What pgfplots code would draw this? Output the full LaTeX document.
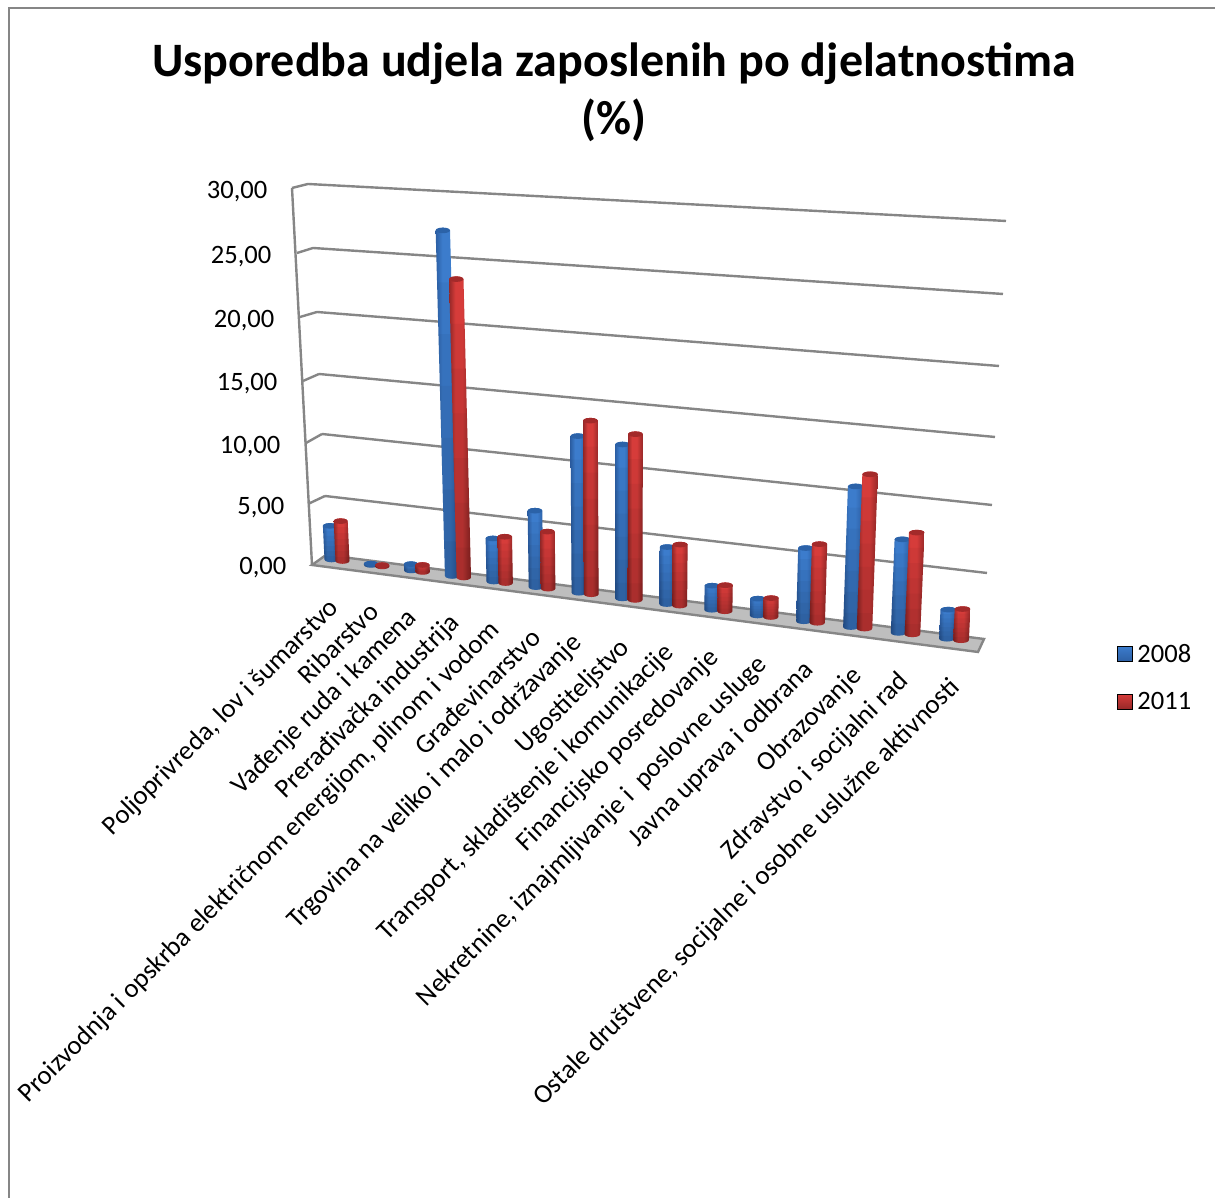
\documentclass[border=0pt]{standalone}
\usepackage{fontspec}
\setmainfont{Carlito}
\usepackage{pgfplots}
\usepackage{pgfplotstable}
\pgfplotsset{compat=1.18}
\definecolor{gridc}{HTML}{868686}
\definecolor{floorc}{HTML}{BEBEBE}
\definecolor{bd}{HTML}{2C5FA4}
\definecolor{bb}{HTML}{3C7CCC}
\definecolor{bc}{HTML}{2B62A8}
\definecolor{rd}{HTML}{962828}
\definecolor{rb}{HTML}{D63C3A}
\definecolor{rc}{HTML}{A32A2A}
\pgfdeclarehorizontalshading{cylb}{100bp}{color(0bp)=(bd);color(25bp)=(bd);color(39bp)=(bb);color(55bp)=(bb);color(75bp)=(bd);color(100bp)=(bd)}
\pgfdeclarehorizontalshading{cylr}{100bp}{color(0bp)=(rd);color(25bp)=(rd);color(39bp)=(rb);color(55bp)=(rb);color(75bp)=(rd);color(100bp)=(rd)}
\pgfplotstableread{
c v08 v11
0 2.7 3.2
1 0.1 0.1
2 0.5 0.55
3 27.1 23.4
4 3.35 3.6
5 5.9 4.4
6 12.0 13.3
7 11.7 12.6
8 4.3 4.6
9 1.8 1.95
10 1.25 1.4
11 5.4 5.8
12 10.3 11.3
13 6.8 7.4
14 2.1 2.25
}\datatable
% #1 = category, #2 = series offset, #3 = value, #4 = shading, #5 = cap colour
\newcommand\cyl[5]{%
 \pgfmathsetmacro\myBx{331.5+39.2*#1+0.34*#1*#1+#2*(11+0.22*#1)}%
 \pgfmathsetmacro\myBy{1198-(559.5+5.45*#1+0.015*#1*#1+#2*1.5)}%
 \pgfmathsetmacro\mySc{12.45+0.1*#1}%
 \pgfmathsetmacro\myLx{(-18+(\myBx-326)/658*40)/30}%
 \pgfmathsetmacro\myTx{\myBx+#3*\myLx}%
 \pgfmathsetmacro\myTy{\myBy+#3*\mySc}%
 \pgfmathsetmacro\myA{7+0.06*#1}%
 \def\myB{2.8}%
 \gdef\myArc{}%
 \foreach \ang in {180,210,...,360}{%
   \pgfmathsetmacro\xx{\myBx+\myA*cos(\ang)}%
   \pgfmathsetmacro\yy{\myBy+\myB*sin(\ang)}%
   \xdef\myArc{\myArc (\xx,\yy)}%
 }%
 \gdef\myBody{\myArc}%
 \foreach \ang in {0,30,...,180}{%
   \pgfmathsetmacro\xx{\myTx+\myA*cos(\ang)}%
   \pgfmathsetmacro\yy{\myTy+\myB*sin(\ang)}%
   \xdef\myBody{\myBody (\xx,\yy)}%
 }%
 \gdef\myCap{}%
 \foreach \ang in {0,30,...,330}{%
   \pgfmathsetmacro\xx{\myTx+\myA*cos(\ang)}%
   \pgfmathsetmacro\yy{\myTy+\myB*sin(\ang)}%
   \xdef\myCap{\myCap (\xx,\yy)}%
 }%
 \edef\myTmp{\noexpand\addplot[forget plot,draw=none,shading=#4,shading angle=0] coordinates {\myBody};}%
 \myTmp
 \pgfplotsforeachungrouped \ff in {0.85,0.7,0.55,0.4,0.25,0.1}{%
   \pgfmathsetmacro\xf{\myBx+\ff*(\myTx-\myBx)}%
   \pgfmathsetmacro\yf{\myBy+\ff*(\myTy-\myBy)}%
   \pgfmathsetmacro\xr{\xf+\myA}%
   \pgfmathsetmacro\xl{\xf-\myA}%
   \edef\myTmp{\noexpand\addplot[forget plot,draw=none,fill=black,fill opacity=0.035] coordinates {\myArc (\xr,\yf) (\xl,\yf)};}%
   \myTmp
 }%
 \edef\myTmp{\noexpand\addplot[forget plot,draw=none,fill=#5] coordinates {\myCap};}%
 \myTmp
}
\newcommand\gl[4]{\addplot[forget plot,gridc,line width=1.8pt] coordinates {(#1,{1198-#2}) (#3,{1198-#4})};}
\newcommand\tl[3]{\node[anchor=east,font=\fontsize{19.9}{24}\selectfont] at (axis cs:#1,1198-#2) {#3};}
\newcommand\cl[3]{\node[anchor=east,rotate=45,font=\fontsize{20.1}{24}\selectfont,inner sep=0pt] at (axis cs:#1-2,1198-#2+3) {#3};}
\begin{document}
\begin{tikzpicture}
\useasboundingbox (0,0) rectangle (911.25pt,898.5pt);
\begin{axis}[
  width=911.25pt,height=898.5pt,scale only axis,
  xmin=0,xmax=1215,ymin=0,ymax=1198,
  axis line style={draw=none},tick style={draw=none},xtick=\empty,ytick=\empty,
  clip=false,
  title={Usporedba udjela zaposlenih po djelatnostima\\(\%)},
  title style={at={(axis cs:614,1147)},anchor=north,align=center,font=\fontsize{36}{43.5}\selectfont\bfseries,inner sep=0pt},
  legend style={at={(axis cs:1117,557)},anchor=north west,draw=none,fill=none,font=\fontsize{19.9}{24}\selectfont,inner sep=0pt,
    row sep=17pt,legend cell align=left},
  legend image code/.code={\fill[#1] (0cm,-5.6pt) rectangle (11.25pt,5.6pt);},
]
\addlegendimage{top color=bb,bottom color=bd}
\addlegendentry{\hspace{1.5pt}2008}
\addlegendimage{top color=rb,bottom color=rd}
\addlegendentry{\hspace{1.5pt}2011}
% chart frame
\addplot[forget plot,color=gridc,line width=1.4pt] coordinates {(9,0) (9,1190) (1215,1190)};
% left wall
\gl{292}{188}{312}{565}
% gridlines
\gl{292}{188}{308}{184}\gl{308}{184}{1006}{221}
\gl{297}{253}{313}{248}\gl{313}{248}{1003}{294}
\gl{300}{317}{317}{312}\gl{317}{312}{999}{366}
\gl{303}{381}{319}{374}\gl{319}{374}{995}{437}
\gl{306}{443}{322}{434}\gl{322}{434}{992}{505}
\gl{308}{504}{325}{496}\gl{325}{496}{987}{573}
% floor
\addplot[forget plot,draw=gridc,fill=floorc,line width=1.8pt] coordinates {(326,643) (984,559) (978,546) (312,633)} -- cycle;
% bars
\pgfplotsforeachungrouped \cc in {0,...,14}{%
  \pgfplotstablegetelem{\cc}{v08}\of\datatable \let\va\pgfplotsretval
  \pgfplotstablegetelem{\cc}{v11}\of\datatable \let\vb\pgfplotsretval
  \cyl{\cc}{0}{\va}{cylb}{bc}%
  \cyl{\cc}{1}{\vb}{cylr}{rc}%
}
% value labels
\tl{272}{192}{30,00}\tl{276}{257}{25,00}\tl{279}{321}{20,00}\tl{282}{384}{15,00}\tl{285}{447}{10,00}\tl{289}{508}{5,00}\tl{291}{568}{0,00}
% category labels
\cl{337}{607}{Poljoprivreda, lov i šumarstvo}
\cl{376}{610}{Ribarstvo}
\cl{415}{617}{Vađenje ruda i kamena}
\cl{458}{622}{Prerađivačka industrija}
\cl{498}{629}{Proizvodnja i opskrba električnom energijom, plinom i vodom}
\cl{538}{636}{Građevinarstvo}
\cl{580}{642}{Trgovina na veliko i malo i održavanje}
\cl{628}{647}{Ugostiteljstvo}
\cl{672}{652}{Transport, skladištenje i komunikacije}
\cl{717}{657}{Financijsko posredovanje}
\cl{765}{664}{Nekretnine, iznajmljivanje i\ \ poslovne usluge}
\cl{812}{669}{Javna uprava i odbrana}
\cl{860}{675}{Obrazovanje}
\cl{907}{680}{Zdravstvo i socijalni rad}
\cl{958}{687}{Ostale društvene, socijalne i osobne uslužne aktivnosti}
\end{axis}
\end{tikzpicture}
\end{document}
